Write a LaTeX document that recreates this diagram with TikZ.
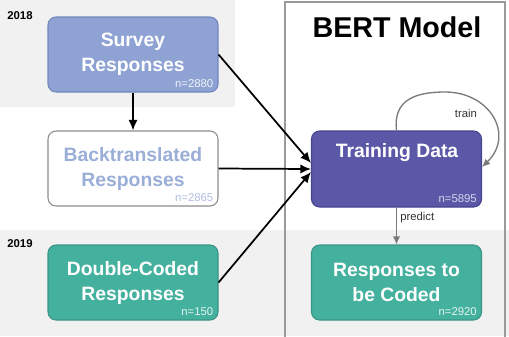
\documentclass[tikz,border=0pt]{standalone}
\usepackage{fontspec}
\setmainfont{Liberation Sans}
\usetikzlibrary{arrows.meta}

\definecolor{bandgray}{HTML}{F1F1F1}
\definecolor{surveyfill}{HTML}{8EA2D3}
\definecolor{surveyedge}{HTML}{7086BD}
\definecolor{backtext}{HTML}{9BAED8}
\definecolor{backedge}{HTML}{8C8C8C}
\definecolor{tealfill}{HTML}{44B09E}
\definecolor{tealedge}{HTML}{3A9585}
\definecolor{trainfill}{HTML}{5B59A7}
\definecolor{trainedge}{HTML}{46448F}
\definecolor{framegray}{HTML}{9A9A9A}
\definecolor{loopgray}{HTML}{7A7A7A}

\tikzset{
  box/.style={rectangle, rounded corners=6pt, line width=0.8pt,
    minimum width=127.5pt, minimum height=56.25pt, align=center,
    inner sep=0pt, font=\fontsize{14.5}{18.75}\selectfont\bfseries},
  ncount/.style={anchor=base east, inner sep=0pt,
    font=\fontsize{8.5}{10}\selectfont},
  yearlabel/.style={inner sep=0pt, font=\fontsize{8.5}{10}\selectfont\bfseries},
  edgelabel/.style={inner sep=0pt, font=\fontsize{8.5}{10}\selectfont},
  arr/.style={line width=1.3pt, -{Latex[length=8pt,width=7pt]}},
  grayarr/.style={loopgray, line width=1pt, -{Latex[length=6pt,width=5.5pt]}},
}

\begin{document}
\begin{tikzpicture}[x=0.75pt, y=-0.75pt]
\useasboundingbox (0,0) rectangle (509,336);

% year bands
\fill[bandgray] (0,0) rectangle (235,107);
\fill[bandgray] (0,230) rectangle (509,336);
\node[yearlabel] (y2018) at (20,16) {2018};
\node[yearlabel] (y2019) at (20,244) {2019};

% model frame
\node[draw=framegray, line width=0.9pt, minimum width=165pt,
      minimum height=255pt, inner sep=0pt] (bert) at (395,172) {};
\node[inner sep=0pt, font=\fontsize{21.5}{24}\selectfont\bfseries]
  (berttitle) at (397,27) {BERT Model};

% data sets
\node[box, fill=surveyfill, draw=surveyedge, text=white] (survey)
  at (133,54.5) {Survey\\Responses};
\node[box, fill=white, draw=backedge, text=backtext] (back)
  at (133,168.5) {Backtranslated\\Responses};
\node[box, fill=tealfill, draw=tealedge, text=white] (double)
  at (133,282.5) {Double-Coded\\Responses};
\node[box, fill=trainfill, draw=trainedge, minimum height=57pt] (trainbox)
  at (396.5,169) {};
\node[inner sep=0pt, text=white, font=\fontsize{14.5}{18.75}\selectfont\bfseries]
  (traintext) at (397,153) {Training Data};
\node[box, fill=tealfill, draw=tealedge, text=white] (resp)
  at (396.5,282.5) {Responses to\\be Coded};

% sample sizes
\node[ncount, text=white!88!surveyfill] (n1) at ([shift={(-5,-5)}]survey.south east) {n=2880};
\node[ncount, text=backtext!80!white] (n2) at ([shift={(-5,-5)}]back.south east) {n=2865};
\node[ncount, text=white!85!tealfill] (n3) at ([shift={(-5,-5)}]double.south east) {n=150};
\node[ncount, text=white!75!trainfill] (n4) at ([shift={(-5,-5)}]trainbox.south east) {n=5895};
\node[ncount, text=white!85!tealfill] (n5) at ([shift={(-5,-5)}]resp.south east) {n=2920};

% flows into the training set
\draw[arr] (survey.south) -- (back.north);
\draw[arr] (survey.east) -- ([shift={(0,-6)}]trainbox.west);
\draw[arr] (back.east) -- (trainbox.west);
\draw[arr] (double.east) -- ([shift={(0,3)}]trainbox.west);

% training loop and prediction
\coordinate (looptop) at (445,92);
\draw[grayarr] (trainbox.north) .. controls (393,100) and (415,92) .. (looptop)
  .. controls (490,92) and (515,135) .. ([shift={(0,-2)}]trainbox.east);
\node[edgelabel, text=black!80] (trainlbl) at (466,113) {train};
\draw[grayarr] (trainbox.south) -- (resp.north);
\node[edgelabel, anchor=west, text=black!80] (predlbl) at (400,218) {predict};
\end{tikzpicture}
\end{document}
